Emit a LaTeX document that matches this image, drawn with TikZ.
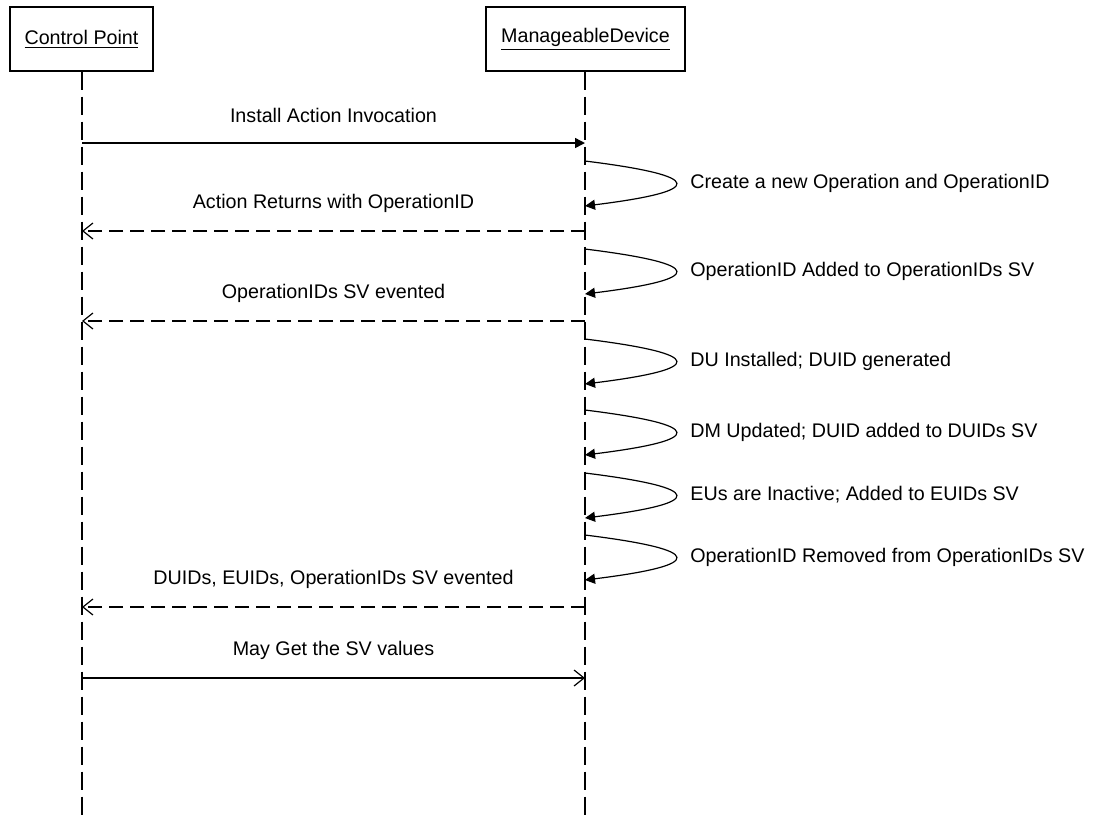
\documentclass[tikz,border=0pt]{standalone}
\usepackage{fontspec}
\setmainfont{Liberation Sans}
\usetikzlibrary{arrows.meta}

\tikzset{
  actor/.style={draw, line width=0.65pt, minimum height=32pt, inner sep=0pt},
  lifeline/.style={line width=0.7pt, dash pattern=on 9pt off 3.5pt},
  call/.style={line width=0.75pt, -{Triangle[length=5pt,width=5pt]}},
  selfcall/.style={line width=0.6pt, -{Triangle[length=5pt,width=5pt]}},
  reply/.style={line width=0.6pt, dash pattern=on 7pt off 3.5pt, -{Straight Barb[length=5pt,width=8pt]}},
  query/.style={line width=0.6pt, -{Straight Barb[length=5pt,width=8pt]}},
  msg/.style={midway, yshift=14pt, inner sep=0pt},
  note/.style={anchor=west, inner sep=0pt}
}

\begin{document}
\begin{tikzpicture}[x=0.5pt,y=-0.5pt,font=\fontsize{9.85pt}{12pt}\selectfont]
    \useasboundingbox (0,0) rectangle (1094,821);

    % actors
    \node[actor, minimum width=71.5pt] (cp) at (81.5,39) {\underline{Control Point}};
    \node[actor, minimum width=99.5pt] (md) at (585.5,39) {\underline{ManageableDevice}};

    % lifelines
    \coordinate (cp-end) at (82,821);
    \coordinate (md-end) at (585,821);
    \draw[lifeline] (cp.south -| cp-end) -- (cp-end);
    \draw[lifeline] (md.south -| md-end) -- (md-end);

    % message points on both lifelines
    \foreach \n/\y in {inst/143, ret/231, evt/321, evtall/607, get/678} {
        \coordinate (cp-\n) at (82,\y);
        \coordinate (md-\n) at (585,\y);
    }

    % messages
    \draw[call] (cp-inst) -- node[msg] (lbl-inst) {Install Action Invocation} (md-inst);
    \draw[reply] (md-ret) -- node[msg] (lbl-ret) {Action Returns with OperationID} (cp-ret);
    \draw[reply] (md-evt) -- node[msg] (lbl-evt) {OperationIDs SV evented} (cp-evt);
    \draw[reply] (md-evtall) -- node[msg] (lbl-evtall) {DUIDs, EUIDs, OperationIDs SV evented} (cp-evtall);
    \draw[query] (cp-get) -- node[msg] (lbl-get) {May Get the SV values} (md-get);

    % self calls on the device
    \foreach \i/\y/\txt in {1/161/Create a new Operation and OperationID,
                            2/249/OperationID Added to OperationIDs SV,
                            3/339/DU Installed; DUID generated,
                            4/410/DM Updated; DUID added to DUIDs SV,
                            5/473/EUs are Inactive; Added to EUIDs SV,
                            6/535/OperationID Removed from OperationIDs SV} {
        \coordinate (ls\i) at (585,\y);
        \coordinate (le\i) at (585,\y+45);
        \draw[selfcall] (ls\i) .. controls +(121,15) and +(121,-15) .. (le\i);
        \node[note] (note\i) at (690,\y+22) {\txt};
    }
\end{tikzpicture}
\end{document}
